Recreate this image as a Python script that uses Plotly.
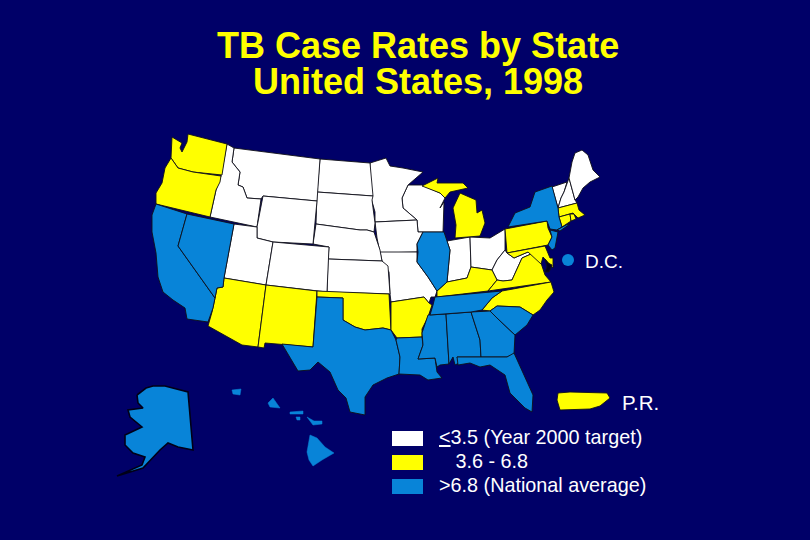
import plotly.graph_objects as go

BG = '#000068'
WHITE = '#ffffff'
YELLOW = '#ffff00'
BLUE = '#0884d8'

# outlines, (x, y) in picture pixels
wa = [(172,137),(179,141),(182,143),(180,148),(182,152),(187,142),(188,134),(227,144),(222,175),(193,172),(178,168),(171,158)]
or_ = [(171,158),(178,168),(193,172),(221,176),(220,182),(216,190),(210,217),(156,204),(156,193),(162,183),(165,168)]
id_ = [(227,144),(234,148),(232,162),(240,172),(238,185),(243,187),(247,198),(261,199),(257,227),(210,217),(216,190),(221,176)]
mt = [(234,148),(320,159),(317,201),(263,196),(261,199),(247,198),(243,187),(238,185),(240,172),(232,162)]
nd = [(320,159),(370,163),(373,196),(317,192)]
sd = [(317,192),(373,196),(372,200),(375,223),(374,232),(367,230),(360,230),(316,224)]
wy = [(263,196),(317,201),(313,244),(273,242),(257,238),(257,227)]
ne = [(316,224),(360,230),(367,230),(374,232),(380,250),(382,261),(328,259),(329,247),(313,244)]
ut = [(234,224),(257,227),(257,238),(273,242),(266,285),(224,278)]
co = [(273,242),(329,247),(327,292),(266,285)]
nv = [(187,214),(234,224),(224,278),(223,287),(217,288),(215,298),(178,246)]
ca = [(156,204),(187,214),(178,246),(215,298),(213,308),(209,320),(208,322),(187,319),(185,308),(173,300),(163,292),(158,277),(156,253),(152,232),(152,215)]
az = [(224,278),(266,285),(258,347),(242,345),(208,326),(212,312),(215,298),(217,288),(223,287)]
nm = [(266,285),(317,291),(313,347),(282,344),(265,343),(264,348),(258,347)]
ks = [(328,259),(382,261),(388,266),(390,294),(327,292)]
ok = [(317,291),(389,294),(391,330),(383,328),(365,330),(355,327),(343,320),(343,298),(317,297)]
tx = [(317,297),(343,298),(343,320),(355,327),(365,330),(383,328),(391,330),(396,340),(400,357),(399,374),(387,378),(373,385),(365,397),(365,415),(350,412),(346,398),(338,390),(330,372),(318,362),(310,370),(298,371),(290,357),(282,344),(313,347)]
mn = [(370,163),(386,158),(390,166),(403,168),(423,172),(408,185),(402,198),(403,208),(417,220),(375,222),(375,212),(371,198),(370,185)]
ia = [(375,222),(417,220),(418,232),(423,232),(417,244),(417,252),(380,253),(377,238)]
mo = [(380,252),(417,252),(417,262),(428,277),(437,291),(435,297),(431,297),(429,303),(424,297),(391,302),(390,294),(389,272),(382,261)]
ar = [(391,302),(424,297),(429,303),(432,305),(428,317),(422,329),(422,337),(397,338),(391,330)]
la = [(397,338),(422,337),(423,345),(418,359),(435,358),(437,372),(442,378),(428,380),(420,375),(399,374),(400,357),(396,340)]
wi = [(408,185),(422,185),(440,193),(445,198),(440,208),(444,202),(443,232),(418,232),(417,220),(403,208),(402,198)]
il = [(423,232),(444,232),(447,241),(450,250),(447,282),(442,287),(437,291),(428,277),(417,262),(418,252),(417,244)]
mi_upper = [(422,186),(438,178),(437,183),(463,183),(468,188),(450,192),(445,198),(440,193)]
mi_lower = [(460,193),(476,200),(477,213),(482,210),(485,223),(480,236),(455,238),(456,225),(453,208)]
in_ = [(447,241),(470,237),(471,267),(467,278),(447,282),(450,250)]
oh = [(470,237),(490,238),(505,229),(505,250),(497,260),(492,270),(471,267)]
ky = [(437,291),(447,282),(467,278),(471,267),(492,270),(497,280),(488,291),(437,297)]
tn = [(435,297),(502,291),(492,298),(482,310),(471,312),(430,315),(433,305)]
ms = [(428,315),(446,314),(449,364),(440,365),(437,367),(435,358),(418,359),(423,345),(422,333)]
al = [(446,314),(471,312),(480,340),(481,357),(457,357),(459,363),(455,365),(453,357),(449,364)]
ga = [(471,312),(490,311),(497,318),(515,335),(514,354),(507,357),(481,357),(480,340)]
sc = [(490,311),(497,306),(520,307),(533,315),(527,325),(515,335),(497,318)]
fl = [(457,357),(481,357),(507,357),(514,353),(533,395),(532,412),(525,408),(510,393),(505,375),(490,365),(480,367),(470,363),(458,365)]
nc = [(502,291),(551,282),(554,292),(547,300),(540,310),(533,315),(520,307),(497,306),(490,311),(482,310),(492,298)]
va = [(488,291),(497,280),(503,281),(512,280),(522,258),(531,254),(540,260),(543,268),(545,275),(551,282)]
wv = [(505,250),(507,253),(514,258),(528,252),(531,254),(522,258),(512,280),(503,281),(497,280),(492,270),(497,260)]
pa = [(505,229),(547,221),(548,228),(552,237),(548,245),(507,253)]
md = [(507,253),(545,246),(550,258),(553,258),(553,268),(547,262),(543,257),(541,264),(531,254),(528,252),(514,258)]
nj = [(550,230),(558,232),(555,248),(552,250),(548,245),(552,237)]
ny = [(552,186),(555,198),(558,208),(559,217),(562,227),(557,230),(550,229),(547,221),(508,227),(515,213),(530,207),(535,192)]
long_island = [(557,230),(566,225),(570,224),(560,231)]
vt = [(552,187),(567,182),(564,192),(561,198),(558,208),(555,198)]
nh = [(569,178),(575,200),(577,203),(558,208),(561,198),(564,192)]
me = [(582,150),(588,155),(593,170),(600,177),(590,182),(583,188),(578,197),(575,200),(569,178),(572,162),(575,153)]
ma = [(558,208),(577,203),(579,210),(585,215),(578,218),(573,213),(559,217)]
ct = [(559,217),(570,214),(571,221),(562,227)]
ri = [(570,214),(574,214),(576,219),(571,221)]
ak = [(137,395),(146,388),(153,386),(165,386),(188,392),(193,450),(178,447),(168,443),(160,450),(155,455),(143,468),(117,476),(142,465),(145,457),(133,453),(125,445),(125,435),(142,427),(130,417),(128,410),(143,408),(138,403)]
hi_kauai = [(232,390),(241,389),(240,395),(233,394)]
hi_oahu = [(273,398),(280,408),(270,407),(268,403)]
hi_molokai = [(290,412),(303,411),(303,414),(290,414)]
hi_lanai = [(296,417),(300,417),(300,420),(297,420)]
hi_maui = [(307,417),(314,421),(322,421),(322,424),(313,425)]
hi_big = [(310,435),(317,438),(325,447),(334,453),(322,460),(313,466),(309,460),(307,452)]
pr = [(558,393),(570,392),(607,393),(610,398),(600,406),(590,409),(560,410),(557,400)]
bay = [(545,259),(548,263),(552,265),(549,272),(545,272),(547,267)]

low_states = [wi, mn, ia, mo, nd, sd, ne, ks, mt, id_, wy, ut, co, in_, oh, wv, vt, nh, me]
mid_states = [wa, or_, az, nm, ok, ar, ky, va, nc, pa, md, mi_upper, mi_lower, ma, ct, ri, pr]
high_states = [ca, nv, tx, la, ms, al, ga, sc, fl, tn, il, ny, long_island, nj]
islands = [hi_kauai, hi_oahu, hi_molokai, hi_lanai, hi_maui, hi_big]

title_lines = ['TB Case Rates by State', 'United States, 1998']
title_baselines = [57, 93]
legend_labels = ['<u>&lt;</u>3.5 (Year 2000 target)', '   3.6 - 6.8', '&gt;6.8 (National average)']
legend_colors = [WHITE, YELLOW, BLUE]
legend_tops = [431, 455, 479]
legend_baselines = [444, 468, 492]

fig = go.Figure()


def add_outline(points, color, line_width=0.9, line_color='#101018'):
    fig.add_trace(go.Scatter(x=[p[0] for p in points] + [points[0][0]],
                             y=[p[1] for p in points] + [points[0][1]],
                             mode='lines', fill='toself', fillcolor=color,
                             line=dict(color=line_color, width=line_width),
                             hoverinfo='skip', showlegend=False))


for state in low_states:
    add_outline(state, WHITE)
for state in mid_states:
    add_outline(state, YELLOW)
for state in high_states:
    add_outline(state, BLUE)
add_outline(ak, BLUE, line_width=1.6, line_color='#000018')
for island in islands:
    add_outline(island, BLUE, line_width=0.5, line_color=BLUE)
add_outline(bay, '#000020')

# D.C. is shown as a dot off the coast
fig.add_trace(go.Scatter(x=[568], y=[260], mode='markers', marker=dict(size=12, color=BLUE),
                         hoverinfo='skip', showlegend=False))

for color, top in zip(legend_colors, legend_tops):
    fig.add_shape(type='rect', x0=392, x1=423, y0=top, y1=top + 15, fillcolor=color, line_width=0)

for label, base in zip(legend_labels, legend_baselines):
    fig.add_annotation(x=438, y=base, text=label, showarrow=False, xanchor='left', yanchor='bottom',
                       yshift=-5, borderpad=0, font=dict(size=19.8, color='white'))

fig.add_annotation(x=584, y=268, text='D.C.', showarrow=False, xanchor='left', yanchor='bottom',
                   yshift=-5, borderpad=0, font=dict(size=19, color='white'))
fig.add_annotation(x=621, y=410, text='P.R.', showarrow=False, xanchor='left', yanchor='bottom',
                   yshift=-5, borderpad=0, font=dict(size=20.5, color='white'))

for line, base in zip(title_lines, title_baselines):
    fig.add_annotation(x=418, y=base, text=f'<b>{line}</b>', showarrow=False, xanchor='center', yanchor='bottom',
                       yshift=-10, borderpad=0, font=dict(size=36, color=YELLOW))

fig.update_layout(font=dict(family='Liberation Sans'),
                  paper_bgcolor=BG, plot_bgcolor=BG,
                  xaxis=dict(range=[0, 810], visible=False, fixedrange=True),
                  yaxis=dict(range=[540, 0], visible=False, fixedrange=True),
                  margin=dict(l=0, r=0, t=0, b=0),
                  width=810, height=540)
fig.write_html("out.html", config={'displayModeBar': False},
               post_script="document.body.style.margin='0';document.body.style.background='#000068';")
